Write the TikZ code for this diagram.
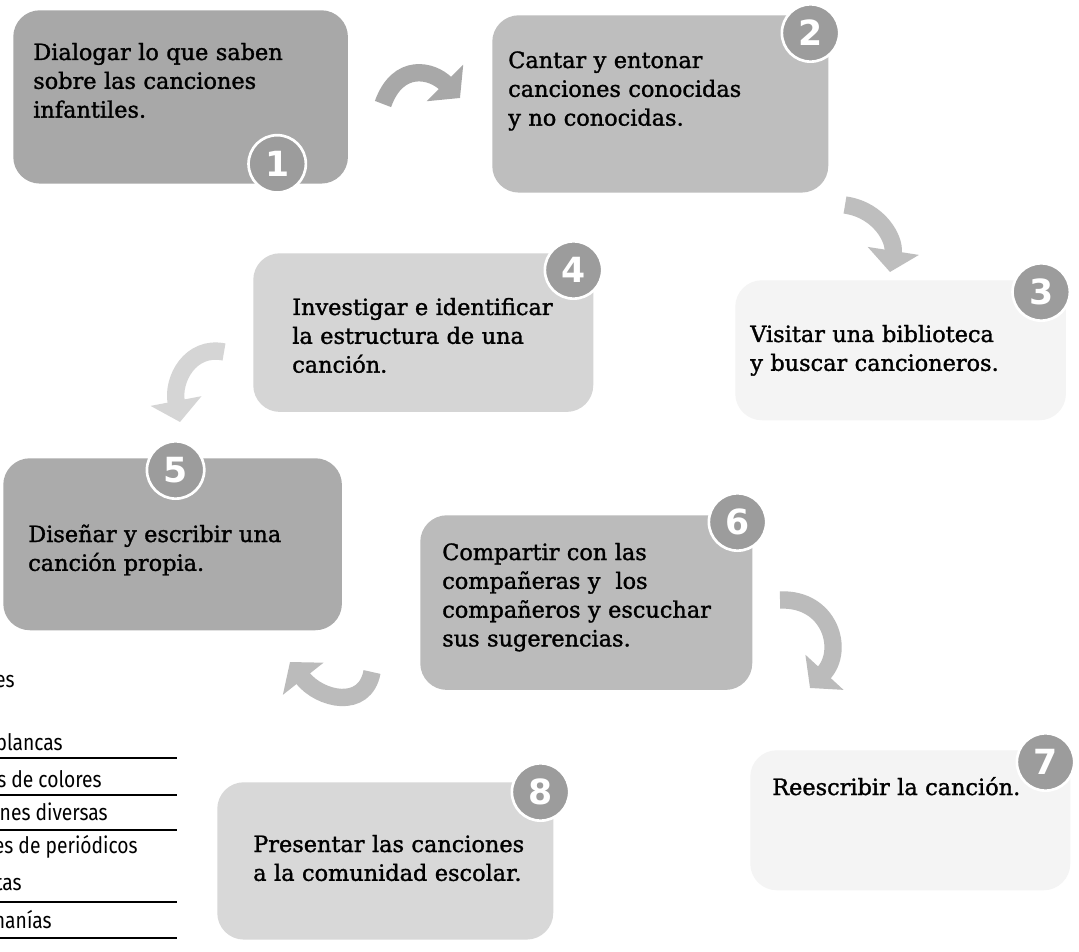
\documentclass[tikz,border=0pt]{standalone}
\usepackage{fontspec}
\setmainfont[FakeBold=1.4]{DejaVu Serif}
\newfontfamily\numfont{DejaVu Sans}
\newfontfamily\listfont[FakeStretch=0.85]{Fira Sans}
\usepackage{tikz}
\usetikzlibrary{arrows.meta, positioning, calc}
\definecolor{boxone}{HTML}{A8A8A8}
\definecolor{boxtwo}{HTML}{BEBEBE}
\definecolor{boxfour}{HTML}{D5D5D5}
\definecolor{boxfive}{HTML}{ABABAB}
\definecolor{boxsix}{HTML}{BBBBBB}
\definecolor{boxeight}{HTML}{D8D8D8}
\definecolor{boxfaint}{HTML}{F4F4F4}
\definecolor{numgray}{HTML}{9C9C9C}
\tikzstyle{stepbox} = [rectangle, rounded corners=20pt, anchor=north west, inner sep=0pt]
\tikzstyle{steptext} = [anchor=base west, text width=10cm, align=left, inner sep=0pt,
  font=\fontsize{16.8pt}{21.6pt}\selectfont]
\tikzstyle{stepnum} = [circle, minimum size=43pt, inner sep=0pt, fill=numgray, draw=white,
  line width=2pt, text=white, font=\numfont\bfseries\fontsize{26pt}{26pt}\selectfont]
\tikzstyle{turnarrow} = [line width=13pt, -{Triangle[width=38pt,length=16pt]}]
\tikzstyle{listtext} = [anchor=base east, inner sep=0pt, font=\listfont\fontsize{17pt}{17pt}\selectfont]

\begin{document}
\begin{tikzpicture}[x=0.75pt, y=-0.75pt]
  \clip (0,0) rectangle (1079,952);
  \fill[white] (0,0) rectangle (1079,952);

  % steps
  \node (b1) [stepbox, fill=boxone, minimum width=251pt, minimum height=130pt] at (13,10) {};
  \node (b2) [stepbox, fill=boxtwo, minimum width=252pt, minimum height=133pt] at (492,15) {};
  \node (b3) [stepbox, fill=boxfaint, minimum width=248pt, minimum height=105pt] at (735,280) {};
  \node (b4) [stepbox, fill=boxfour, minimum width=255pt, minimum height=119pt] at (253,253) {};
  \node (b5) [stepbox, fill=boxfive, minimum width=254pt, minimum height=129pt] at (3,458) {};
  \node (b6) [stepbox, fill=boxsix, minimum width=249pt, minimum height=131pt] at (420,515) {};
  \node (b7) [stepbox, fill=boxfaint, minimum width=240pt, minimum height=105pt] at (750,750) {};
  \node (b8) [stepbox, fill=boxeight, minimum width=252pt, minimum height=118pt] at (217,782) {};

  \node (t1) [steptext] at ($(b1.north west)+(20,50)$) {Dialogar lo que saben\\sobre las canciones\\infantiles.};
  \node (t2) [steptext] at ($(b2.north west)+(16,53)$) {Cantar y entonar\\canciones conocidas\\y no conocidas.};
  \node (t3) [steptext] at ($(b3.north west)+(15,62)$) {Visitar una biblioteca\\y buscar cancioneros.};
  \node (t4) [steptext] at ($(b4.north west)+(39,62)$) {Investigar e identificar\\la estructura de una\\canción.};
  \node (t5) [steptext] at ($(b5.north west)+(25,84)$) {Diseñar y escribir una\\canción propia.};
  \node (t6) [steptext] at ($(b6.north west)+(22,45)$) {Compartir con las\\compañeras y~ los\\compañeros y escuchar\\sus sugerencias.};
  \node (t7) [steptext] at ($(b7.north west)+(22,45)$) {Reescribir la canción.};
  \node (t8) [steptext] at ($(b8.north west)+(36,70)$) {Presentar las canciones\\a la comunidad escolar.};

  \node (n1) [stepnum] at ($(b1.south east)+(-71,-20)$) {1};
  \node (n2) [stepnum] at ($(b2.north east)+(-18,18)$) {2};
  \node (n3) [stepnum] at ($(b3.north east)+(-25,12)$) {3};
  \node (n4) [stepnum] at ($(b4.north east)+(-20,17)$) {4};
  \node (n5) [stepnum] at ($(b5.north)+(3,12)$) {5};
  \node (n6) [stepnum] at ($(b6.north east)+(-15,7)$) {6};
  \node (n7) [stepnum] at ($(b7.north east)+(-25,12)$) {7};
  \node (n8) [stepnum] at ($(b8.north east)+(-13,10)$) {8};

  % curved arrows between steps
  \coordinate (a12s) at (383,104);
  \coordinate (a12e) at (460,98);
  \coordinate (a23s) at (845,205);
  \coordinate (a23e) at (890,272);
  \coordinate (a45s) at (224,352);
  \coordinate (a45e) at (180,422);
  \coordinate (a67s) at (780,600);
  \coordinate (a67e) at (810,688);
  \coordinate (a65s) at (372,672);
  \coordinate (a65e) at (290,662);
  \draw[turnarrow, boxone] (a12s) .. controls (398,62) and (432,70) .. (a12e);
  \draw[turnarrow, boxtwo] (a23s) .. controls (880,210) and (895,240) .. (a23e);
  \draw[turnarrow, boxfour] (a45s) .. controls (190,345) and (172,380) .. (a45e);
  \draw[turnarrow, boxsix] (a67s) .. controls (830,598) and (845,650) .. (a67e);
  \draw[turnarrow, boxsix] (a65s) .. controls (365,710) and (320,700) .. (a65e);

  % cut-off list on the left
  \foreach \txt/\xe/\yb [count=\i] in {es/15/687, blancas/63/750, s de colores/102/787,
      nes diversas/108/820, es de periódicos/138/853, tas/22/890, nanías/52/928}
    \node (l\i) [listtext] at (\xe,\yb) {\txt};
  \foreach \yl in {758,795,830,902,938}
    \draw[line width=1pt] (0,\yl) -- (177,\yl);
\end{tikzpicture}
\end{document}
